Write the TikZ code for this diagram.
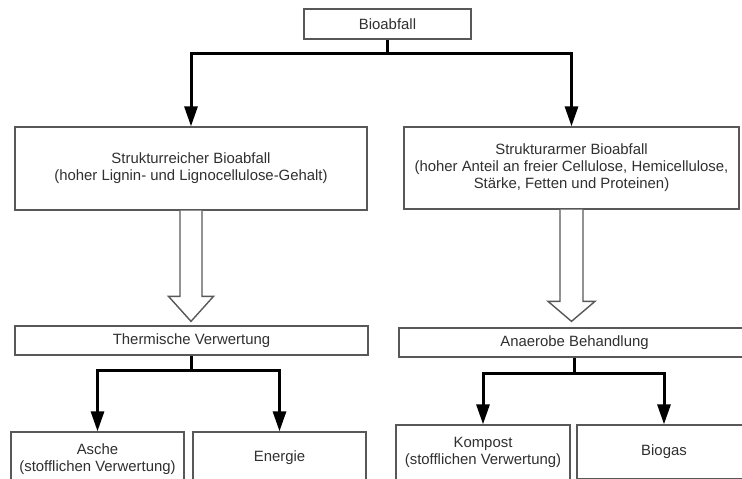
\documentclass[tikz,border=0pt]{standalone}
\usepackage{fontspec}
\setmainfont{Liberation Sans}
\usetikzlibrary{arrows.meta,calc}
\definecolor{txt}{HTML}{303030}
\definecolor{frame}{HTML}{585858}
\tikzset{
  box/.style={draw=frame, line width=1.3pt, fill=white, inner sep=0pt, align=center,
    text=txt, font=\fontsize{14.9}{17}\selectfont},
  conn/.style={line width=3pt, -{Triangle[width=13pt,length=20pt]}, line join=miter},
  hollow/.style={draw=frame, line width=1.4pt, fill=white, line join=miter}
}
\begin{document}
\begin{tikzpicture}[x=1pt,y=-1pt]
\useasboundingbox (0,0) rectangle (742,479);
\clip (0,0) rectangle (742,479);

% top level
\node[box, minimum width=167, minimum height=30] (bio) at (387.5,24) {Bioabfall};

% second level
\node[box, minimum width=352, minimum height=83] (reich) at (191,168.5)
  {Strukturreicher Bioabfall\\(hoher Lignin- und Lignocellulose-Gehalt)};
\node[box, minimum width=335, minimum height=82] (arm) at (571.5,168)
  {Strukturarmer Bioabfall\\(hoher Anteil an freier Cellulose, Hemicellulose,\\St\"arke, Fetten und Proteinen)};

% treatment
\node[box, minimum width=353, minimum height=29] (therm) at (191.5,340.5) {Thermische Verwertung};
\node[box, minimum width=351, minimum height=29] (anaer) at (574.5,342.5) {Anaerobe Behandlung};

% products
\node[box, minimum width=173, minimum height=54] (asche) at (97.5,459)
  {Asche\\(stofflichen Verwertung)};
\node[box, minimum width=173, minimum height=52] (energie) at (279.5,458) {Energie};
\node[box, minimum width=174, minimum height=55] (kompost) at (483,452.5)
  {Kompost\\(stofflichen Verwertung)};
\node[box, minimum width=174, minimum height=54] (biogas) at (664,452) {Biogas};

% black branching connectors
\coordinate (j1) at (bio.south |- 0,53);
\draw[conn] (bio.south) -- (j1) -| (reich.north);
\draw[conn] (j1) -| (arm.north);

\coordinate (j2) at (therm.south |- 0,370);
\draw[conn] (therm.south) -- (j2) -| (asche.north);
\draw[conn] (j2) -| (energie.north);

\coordinate (j3) at (anaer.south |- 0,373);
\draw[conn] (anaer.south) -- (j3) -| (kompost.north);
\draw[conn] (j3) -| (biogas.north);

% hollow block arrows
\coordinate (la) at (reich.south |- therm.north);
\draw[hollow] ($(reich.south)+(-11,0)$) -- ($(la)+(-11,-29)$) -- ($(la)+(-22.5,-29)$)
  -- ($(la)+(0,-4)$) -- ($(la)+(22.5,-29)$) -- ($(la)+(11,-29)$) -- ($(reich.south)+(11,0)$);

\coordinate (ra) at (arm.south |- anaer.north);
\draw[hollow] ($(arm.south)+(-11.5,0)$) -- ($(ra)+(-11.5,-26)$) -- ($(ra)+(-23.5,-26)$)
  -- ($(ra)+(0,-6)$) -- ($(ra)+(23.5,-26)$) -- ($(ra)+(11.5,-26)$) -- ($(arm.south)+(11.5,0)$);
\end{tikzpicture}
\end{document}
